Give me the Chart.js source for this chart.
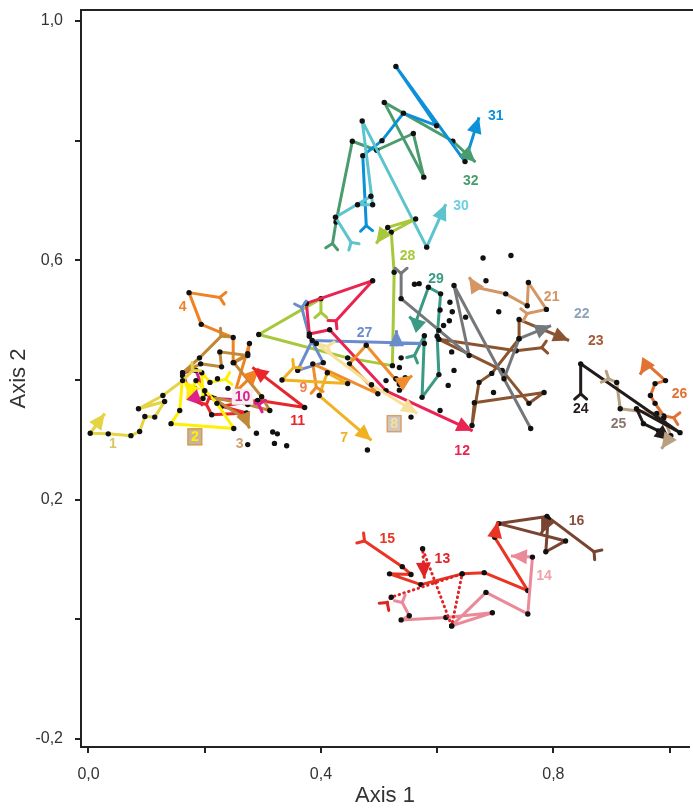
<!DOCTYPE html>
<html>
<head>
<meta charset="utf-8">
<title>Trajectories</title>
<script src="https://cdn.jsdelivr.net/npm/chart.js@4.4.0/dist/chart.umd.min.js"></script>
<style>
    html, body { margin: 0; padding: 0; background: #fff; }
    #wrap { width: 693px; height: 811px; }
</style>
</head>
<body>
<div id="wrap"><canvas id="plot"></canvas></div>
<script>
// each trajectory: [axis1, axis2] in time order, first = start (fork), last = arrow tip
const t1  = [[0.179,0.416],[0.162,0.399],[0.128,0.374],[0.086,0.352],[0.131,0.364],[0.114,0.338],[0.097,0.339],[0.088,0.314],[0.073,0.307],[0.034,0.310],[0.003,0.311],[0.028,0.344]];
const t2  = [[0.236,0.401],[0.209,0.396],[0.195,0.412],[0.197,0.369],[0.174,0.377],[0.162,0.407],[0.157,0.349],[0.142,0.327],[0.250,0.319],[0.221,0.361],[0.185,0.399],[0.169,0.367]];
const t3  = [[0.228,0.473],[0.191,0.437],[0.162,0.412],[0.193,0.427],[0.229,0.422],[0.226,0.447],[0.274,0.441],[0.250,0.429],[0.298,0.372],[0.312,0.349],[0.274,0.359],[0.212,0.371],[0.270,0.335],[0.277,0.319]];
const t4  = [[0.226,0.538],[0.173,0.546],[0.194,0.493],[0.249,0.471],[0.249,0.429],[0.274,0.444],[0.277,0.461],[0.252,0.379],[0.294,0.419]];
const t7  = [[0.353,0.421],[0.333,0.400],[0.446,0.394],[0.411,0.412],[0.397,0.374],[0.487,0.299]];
const t8  = [[0.411,0.456],[0.392,0.461],[0.487,0.392],[0.566,0.344]];
const t9  = [[0.392,0.388],[0.386,0.427],[0.498,0.377],[0.449,0.427],[0.478,0.458],[0.535,0.393],[0.557,0.407]];
const t10 = [[0.293,0.359],[0.269,0.366],[0.217,0.369],[0.200,0.377],[0.185,0.416],[0.162,0.412],[0.174,0.379],[0.197,0.357]];
const t11 = [[0.203,0.359],[0.212,0.342],[0.272,0.345],[0.229,0.356],[0.291,0.366],[0.372,0.354],[0.282,0.421]];
const t12 = [[0.426,0.499],[0.489,0.566],[0.375,0.528],[0.380,0.477],[0.415,0.484],[0.512,0.382],[0.661,0.315]];
const t13 = [[0.514,0.028],[0.521,0.037],[0.643,0.076],[0.625,-0.011],[0.575,0.118],[0.578,0.068]];
const t14 = [[0.540,0.028],[0.552,0.006],[0.538,-0.001],[0.615,0.003],[0.695,0.011],[0.625,-0.011],[0.684,0.045],[0.756,0.009],[0.764,0.104],[0.727,0.106]];
const t15 = [[0.475,0.131],[0.540,0.088],[0.555,0.075],[0.518,0.076],[0.572,0.058],[0.643,0.076],[0.681,0.078],[0.756,0.048],[0.699,0.137],[0.704,0.163]];
const t16 = [[0.870,0.113],[0.789,0.172],[0.706,0.160],[0.821,0.131],[0.787,0.113],[0.791,0.168],[0.779,0.143]];
const t21 = [[0.755,0.511],[0.788,0.518],[0.757,0.563],[0.755,0.524],[0.718,0.544],[0.666,0.555],[0.655,0.572]];
const t22 = [[0.538,0.578],[0.538,0.536],[0.655,0.441],[0.629,0.558],[0.761,0.319],[0.715,0.402],[0.741,0.469],[0.796,0.491]];
const t23 = [[0.780,0.454],[0.736,0.449],[0.603,0.468],[0.712,0.416],[0.758,0.361],[0.784,0.379],[0.664,0.362],[0.660,0.324],[0.672,0.396],[0.694,0.411],[0.741,0.469],[0.741,0.501],[0.827,0.466]];
const t24 = [[0.847,0.377],[0.847,0.427],[1.018,0.312],[0.943,0.352],[0.955,0.327],[0.981,0.315],[1.002,0.299]];
const t25 = [[0.895,0.402],[0.909,0.396],[0.915,0.352],[0.978,0.344],[0.990,0.337],[1.002,0.307],[0.986,0.285]];
const t26 = [[1.007,0.337],[0.990,0.340],[0.975,0.361],[0.967,0.374],[0.975,0.394],[0.993,0.399],[0.961,0.427],[0.949,0.409]];
const t27 = [[0.367,0.521],[0.380,0.473],[0.404,0.429],[0.360,0.416],[0.385,0.466],[0.578,0.461],[0.530,0.461],[0.530,0.483]];
const t28 = [[0.400,0.513],[0.400,0.536],[0.293,0.476],[0.446,0.437],[0.523,0.424],[0.526,0.580],[0.521,0.647],[0.563,0.669],[0.515,0.655],[0.495,0.628]];
const t29 = [[0.561,0.441],[0.578,0.474],[0.574,0.371],[0.603,0.409],[0.600,0.473],[0.606,0.544],[0.585,0.555],[0.563,0.496],[0.552,0.506]];
const t30 = [[0.452,0.630],[0.425,0.672],[0.486,0.707],[0.463,0.693],[0.489,0.693],[0.471,0.833],[0.582,0.622],[0.615,0.694]];
const t31 = [[0.478,0.658],[0.472,0.775],[0.505,0.800],[0.542,0.846],[0.599,0.825],[0.529,0.924],[0.648,0.765],[0.672,0.839]];
const t32 = [[0.420,0.628],[0.426,0.664],[0.454,0.799],[0.496,0.784],[0.559,0.812],[0.577,0.739],[0.509,0.864],[0.627,0.799],[0.666,0.764]];

// samples not joined to any drawn path
const loose = [[0.289,0.311],[0.317,0.313],[0.325,0.310],[0.274,0.292],[0.320,0.294],[0.341,0.290],
    [0.679,0.604],[0.727,0.608],[0.684,0.566],[0.561,0.560],[0.569,0.561],[0.622,0.530],[0.605,0.517],
    [0.626,0.514],[0.621,0.499],[0.706,0.514],[0.649,0.505],[0.611,0.491],[0.603,0.483],[0.625,0.447],
    [0.629,0.416],[0.619,0.391],[0.697,0.379],[0.605,0.349],[0.538,0.437],[0.535,0.421],[0.529,0.402],
    [0.512,0.399],[0.539,0.394],[0.545,0.404],[0.535,0.383],[0.555,0.338],[0.480,0.283],
    [0.222,0.402],[0.240,0.386],[0.200,0.382],[0.183,0.386]];

const xTicks = [0, 0.2, 0.4, 0.6, 0.8, 1.0];
const xLabeled = [0, 0.4, 0.8];
const yTicks = [-0.2, 0, 0.2, 0.4, 0.6, 0.8, 1.0];
const yLabeled = [-0.2, 0.2, 0.6, 1.0];

// name, points, line colour, label colour, label anchor (data units)
const tracks = [
    ['1',  t1,  '#e4d444', '#d9c466', [0.042, 0.294]],
    ['2',  t2,  '#fff000', '#fff000', [0.183, 0.305]],
    ['3',  t3,  '#c08838', '#d0a070', [0.260, 0.294]],
    ['4',  t4,  '#f08224', '#f08224', [0.162, 0.523]],
    ['7',  t7,  '#f0b222', '#f0b222', [0.440, 0.304]],
    ['8',  t8,  '#f7e19a', '#f7e19a', [0.526, 0.327]],
    ['9',  t9,  '#f08c2c', '#f08050', [0.370, 0.387]],
    ['10', t10, '#e0208c', '#e0208c', [0.265, 0.372]],
    ['11', t11, '#e8242c', '#e8242c', [0.360, 0.332]],
    ['12', t12, '#ea2452', '#ea2452', [0.643, 0.282]],
    ['13', t13, '#e02426', '#e02426', [0.609, 0.101]],
    ['14', t14, '#ea8a98', '#f0a0ac', [0.784, 0.073]],
    ['15', t15, '#ea3424', '#ea3424', [0.514, 0.135]],
    ['16', t16, '#7a4432', '#8a5040', [0.840, 0.165]],
    ['21', t21, '#d39664', '#d39664', [0.797, 0.539]],
    ['22', t22, '#74787a', '#8ca4bc', [0.849, 0.511]],
    ['23', t23, '#8a5430', '#a85838', [0.873, 0.466]],
    ['24', t24, '#231a1a', '#231a1a', [0.847, 0.352]],
    ['25', t25, '#b8a080', '#8a7470', [0.912, 0.327]],
    ['26', t26, '#e27232', '#e27232', [1.017, 0.377]],
    ['27', t27, '#6a8ccc', '#6a8ccc', [0.475, 0.479]],
    ['28', t28, '#a6c83a', '#a6c83a', [0.549, 0.608]],
    ['29', t29, '#3a9a84', '#3a9a84', [0.598, 0.570]],
    ['30', t30, '#5cc4cc', '#6ccfe0', [0.641, 0.692]],
    ['31', t31, '#0c90d8', '#0c90d8', [0.701, 0.842]],
    ['32', t32, '#4a9c6e', '#4a9c6e', [0.658, 0.733]]
];
const dotted = ['13'];
const boxed = { '2': ['#c8b49a', '#d89a50'], '8': ['#cfc8c0', '#d8a070'], '10': ['#f6f0f2', null] };

const fmt = v => v.toFixed(1).replace('.', ',');
const hasTick = (list, v) => list.some(l => Math.abs(l - v) < 1e-9);
const titleFont = { size: 22, family: '"Liberation Sans Narrow", "Liberation Sans", Arial, sans-serif' };
const tickFont = { size: 16, family: '"Liberation Sans", Arial, sans-serif' };

const datasets = [{
    data: loose.map(([x, y]) => ({ x, y })),
    showLine: false,
    pointRadius: 2.7,
    pointBackgroundColor: '#111',
    pointBorderWidth: 0
}];

tracks.forEach(([name, pts, col]) => {
    const n = pts.length;
    const isDot = dotted.includes(name);
    datasets.push({
        label: name,
        track: true,
        data: pts.map(([x, y]) => ({ x, y })),
        showLine: true,
        borderColor: col,
        borderWidth: 3,
        borderDash: isDot ? [0.5, 4.5] : [],
        borderCapStyle: isDot ? 'round' : 'butt',
        borderJoinStyle: 'round',
        tension: 0,
        fill: false,
        pointRadius: c => (c.dataIndex === 0 || c.dataIndex === n - 1) ? 0 : 2.7,
        pointBackgroundColor: '#111',
        pointBorderWidth: 0
    });
});

// arrow at the last point, fork at the first one
const arrowsPlugin = {
    id: 'arrows',
    afterDatasetsDraw(chart) {
        const ctx = chart.ctx;
        chart.data.datasets.forEach((ds, i) => {
            if (!ds.track) return;
            const els = chart.getDatasetMeta(i).data;
            const n = els.length;
            const col = ds.borderColor;
            ctx.save();
            // head
            const a = Math.atan2(els[n - 1].y - els[n - 2].y, els[n - 1].x - els[n - 2].x);
            const tx = els[n - 1].x, ty = els[n - 1].y;
            const L = 16, W = 7.5;
            ctx.fillStyle = col;
            ctx.beginPath();
            ctx.moveTo(tx, ty);
            ctx.lineTo(tx - L * Math.cos(a) + W * Math.sin(a), ty - L * Math.sin(a) - W * Math.cos(a));
            ctx.lineTo(tx - L * Math.cos(a) - W * Math.sin(a), ty - L * Math.sin(a) + W * Math.cos(a));
            ctx.closePath();
            ctx.fill();
            // fork
            const b = Math.atan2(els[0].y - els[1].y, els[0].x - els[1].x);
            ctx.strokeStyle = col;
            ctx.lineWidth = 3;
            ctx.lineCap = 'round';
            [-0.85, 0.85].forEach(s => {
                ctx.beginPath();
                ctx.moveTo(els[0].x, els[0].y);
                ctx.lineTo(els[0].x + 8 * Math.cos(b + s), els[0].y + 8 * Math.sin(b + s));
                ctx.stroke();
            });
            ctx.restore();
        });
    }
};

const labelsPlugin = {
    id: 'tags',
    afterDraw(chart) {
        const ctx = chart.ctx;
        const xs = chart.scales.x, ys = chart.scales.y;
        ctx.save();
        ctx.font = 'bold 14px "Liberation Sans", Arial, sans-serif';
        ctx.textAlign = 'center';
        ctx.textBaseline = 'middle';
        tracks.forEach(([name, , , lcol, at]) => {
            const px = xs.getPixelForValue(at[0]);
            const py = ys.getPixelForValue(at[1]);
            if (boxed[name]) {
                const w = ctx.measureText(name).width + 6;
                const [bg, bd] = boxed[name];
                ctx.fillStyle = bg;
                ctx.fillRect(px - w / 2, py - 8, w, 16);
                if (bd) {
                    ctx.strokeStyle = bd;
                    ctx.lineWidth = 1.5;
                    ctx.strokeRect(px - w / 2, py - 8, w, 16);
                }
            }
            ctx.fillStyle = lcol;
            ctx.fillText(name, px, py + 0.5);
        });
        // top frame line
        const area = chart.chartArea;
        ctx.strokeStyle = '#222';
        ctx.lineWidth = 2;
        ctx.beginPath();
        ctx.moveTo(area.left, area.top);
        ctx.lineTo(chart.width, area.top);
        ctx.stroke();
        ctx.restore();
    }
};

new Chart(document.getElementById('plot'), {
    type: 'scatter',
    data: { datasets },
    plugins: [arrowsPlugin, labelsPlugin],
    options: {
        responsive: true,
        maintainAspectRatio: false,
        animation: false,
        events: [],
        layout: { padding: { top: 10, right: 2, left: 0, bottom: 0 } },
        plugins: {
            legend: { display: false },
            tooltip: { enabled: false }
        },
        scales: {
            x: {
                type: 'linear',
                min: -0.0129,
                max: 1.0334,
                afterBuildTicks: s => { s.ticks = xTicks.map(v => ({ value: v })); },
                afterFit: s => { s.height = 64; s.paddingLeft = 0; s.paddingRight = 0; },
                ticks: {
                    callback: v => hasTick(xLabeled, v) ? fmt(v) : '',
                    autoSkip: false,
                    maxRotation: 0,
                    padding: 12,
                    color: '#333',
                    font: tickFont
                },
                grid: { display: true, drawOnChartArea: false, drawTicks: true, tickLength: 6, color: '#222', lineWidth: 2 },
                border: { display: true, color: '#222', width: 2 },
                title: {
                    display: true, text: 'Axis 1', color: '#333',
                    font: titleFont,
                    padding: { top: 0, bottom: 2 }
                }
            },
            y: {
                type: 'linear',
                min: -0.2134,
                max: 1.0184,
                afterBuildTicks: s => { s.ticks = yTicks.map(v => ({ value: v })); },
                afterFit: s => { s.width = 81; s.paddingTop = 0; s.paddingBottom = 0; },
                ticks: {
                    callback: v => hasTick(yLabeled, v) ? fmt(v) : '',
                    autoSkip: false,
                    padding: 12,
                    color: '#333',
                    font: tickFont
                },
                grid: { display: true, drawOnChartArea: false, drawTicks: true, tickLength: 6, color: '#222', lineWidth: 2 },
                border: { display: true, color: '#222', width: 2 },
                title: {
                    display: true, text: 'Axis 2', color: '#333',
                    font: titleFont,
                    padding: { top: 6, bottom: 6 }
                }
            }
        }
    }
});
</script>
</body>
</html>
